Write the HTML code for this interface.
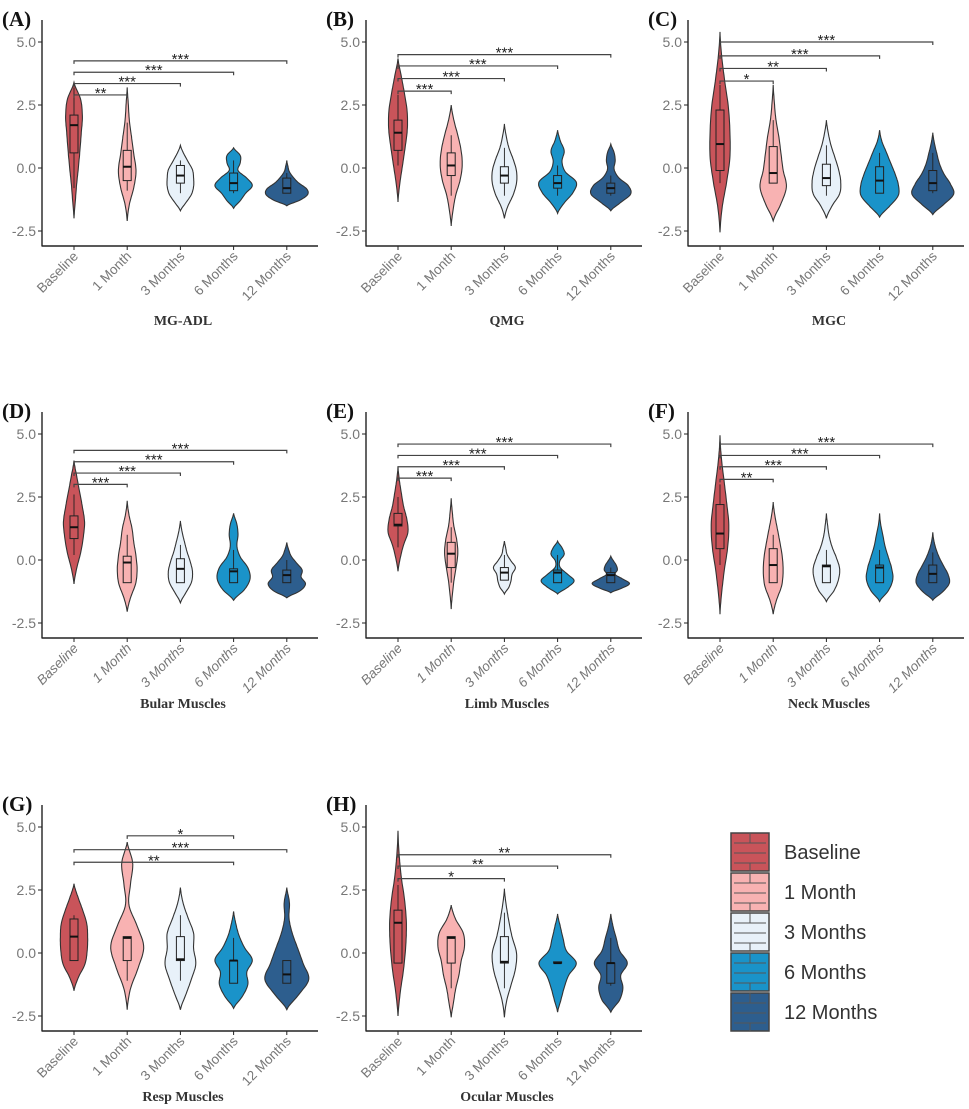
<!DOCTYPE html>
<html><head><meta charset="utf-8">
<style>
html,body{margin:0;padding:0;background:#fff;}
svg{display:block;}
</style></head>
<body>
<svg id="chart" width="969" height="1109" viewBox="0 0 969 1109" xmlns="http://www.w3.org/2000/svg"></svg>
<script>
const categories = ["Baseline","1 Month","3 Months","6 Months","12 Months"];
const colors = ["#c9545a","#f8b2b2","#e8f1f9","#1a93c9","#2d5e8e"];
const panelTitles = ["MG-ADL","QMG","MGC","Bular Muscles","Limb Muscles","Neck Muscles","Resp Muscles","Ocular Muscles"];
const panelLetters = ["(A)","(B)","(C)","(D)","(E)","(F)","(G)","(H)"];
const yTicks = [5.0, 2.5, 0.0, -2.5];
const yTickLabels = ["5.0","2.5","0.0","-2.5"];
const ranges = [
 [[-2.0,3.4],[-2.1,3.2],[-1.7,0.9],[-1.6,0.8],[-1.5,0.3]],
 [[-1.35,4.35],[-2.3,2.5],[-2.0,1.75],[-1.8,1.5],[-1.7,0.95]],
 [[-2.55,5.4],[-2.1,3.3],[-2.0,1.9],[-1.95,1.5],[-1.85,1.4]],
 [[-0.95,3.95],[-2.05,2.35],[-1.7,1.55],[-1.6,1.85],[-1.5,0.7]],
 [[-0.45,3.7],[-1.95,2.45],[-1.35,0.75],[-1.35,0.75],[-1.3,0.15]],
 [[-2.15,4.95],[-2.15,2.3],[-1.65,1.85],[-1.65,1.85],[-1.6,1.1]],
 [[-1.5,2.75],[-2.25,4.4],[-2.25,2.6],[-2.2,1.65],[-2.25,2.6]],
 [[-2.5,4.85],[-2.55,1.9],[-2.55,2.55],[-2.35,1.55],[-2.35,1.55]]
];
const densities = [
 [[0,0.06,0.12,0.2,0.27,0.33,0.38,0.3,0],[0,0.1,0.3,0.4,0.3,0.2,0.1,0.05,0],[0,0.25,0.5,0.6,0.6,0.55,0.35,0.15,0],[0,0.3,0.55,0.85,0.6,0.2,0.3,0.3,0],[0,0.6,0.95,0.9,0.55,0.3,0.12,0.05,0]],
 [[0,0.08,0.2,0.32,0.42,0.42,0.3,0.15,0],[0,0.08,0.2,0.4,0.5,0.45,0.3,0.12,0],[0,0.15,0.4,0.55,0.55,0.4,0.2,0.08,0],[0,0.3,0.7,0.85,0.35,0.2,0.3,0.12,0],[0,0.45,0.9,0.8,0.35,0.15,0.2,0.15,0]],
 [[0,0.1,0.3,0.45,0.45,0.38,0.22,0.08,0],[0,0.35,0.6,0.45,0.35,0.25,0.12,0.05,0],[0,0.25,0.6,0.65,0.55,0.38,0.2,0.08,0],[0,0.45,0.85,0.85,0.7,0.5,0.3,0.1,0],[0,0.5,0.95,0.8,0.5,0.3,0.18,0.07,0]],
 [[0,0.12,0.3,0.42,0.48,0.38,0.25,0.12,0],[0,0.15,0.38,0.45,0.4,0.3,0.22,0.08,0],[0,0.25,0.5,0.55,0.45,0.3,0.18,0.07,0],[0,0.5,0.75,0.65,0.3,0.15,0.2,0.15,0],[0,0.6,0.85,0.65,0.7,0.45,0.2,0.08,0]],
 [[0,0.1,0.25,0.45,0.4,0.25,0.15,0.06,0],[0,0.05,0.12,0.22,0.3,0.25,0.12,0.05,0],[0,0.2,0.3,0.35,0.5,0.3,0.12,0.06,0],[0,0.45,0.75,0.45,0.12,0.1,0.3,0.2,0],[0,0.5,0.85,0.55,0.2,0.3,0.25,0.12,0]],
 [[0,0.08,0.2,0.35,0.4,0.3,0.18,0.06,0],[0,0.15,0.38,0.45,0.42,0.32,0.2,0.08,0],[0,0.35,0.55,0.6,0.45,0.25,0.12,0.05,0],[0,0.4,0.6,0.55,0.4,0.25,0.15,0.05,0],[0,0.45,0.75,0.7,0.5,0.3,0.15,0.05,0]],
 [[0,0.2,0.5,0.6,0.62,0.58,0.4,0.18,0],[0,0.15,0.5,0.75,0.45,0.08,0.15,0.25,0],[0,0.25,0.5,0.7,0.6,0.6,0.35,0.12,0],[0,0.4,0.65,0.6,0.85,0.5,0.25,0.1,0],[0,0.55,1.0,0.75,0.5,0.25,0.1,0.12,0]],
 [[0,0.1,0.25,0.35,0.38,0.3,0.15,0.05,0],[0,0.1,0.2,0.35,0.45,0.6,0.55,0.2,0],[0,0.1,0.3,0.5,0.55,0.35,0.2,0.08,0],[0,0.15,0.3,0.5,0.85,0.4,0.25,0.12,0],[0,0.4,0.55,0.45,0.75,0.4,0.25,0.1,0]]
];
const boxes = [
 [[-0.8,0.6,1.7,2.1,3.2],[-0.9,-0.5,0.05,0.7,1.8],[-1.0,-0.6,-0.3,0.1,0.3],[-1.0,-0.9,-0.6,-0.2,0.3],[-1.0,-1.0,-0.8,-0.4,-0.2]],
 [[0.1,0.7,1.4,1.9,2.9],[-1.1,-0.3,0.1,0.6,1.3],[-1.1,-0.6,-0.3,0.05,0.8],[-1.1,-0.8,-0.6,-0.3,0.1],[-1.1,-1.0,-0.8,-0.6,-0.3]],
 [[-0.6,-0.1,0.95,2.3,3.3],[-0.6,-0.6,-0.2,0.85,1.9],[-1.1,-0.7,-0.4,0.15,0.9],[-1.0,-1.0,-0.5,0.05,0.6],[-1.0,-0.9,-0.6,-0.1,0.6]],
 [[0.2,0.85,1.3,1.75,2.6],[-0.9,-0.9,-0.1,0.15,1.0],[-0.9,-0.9,-0.35,0.05,0.6],[-0.9,-0.9,-0.45,-0.35,0.4],[-0.9,-0.9,-0.6,-0.4,0.0]],
 [[0.5,1.35,1.4,1.85,2.5],[-0.9,-0.3,0.25,0.7,1.3],[-0.8,-0.8,-0.5,-0.3,0.2],[-0.9,-0.9,-0.5,-0.4,0.2],[-0.9,-0.9,-0.6,-0.5,-0.3]],
 [[-0.2,0.45,1.05,2.2,3.0],[-0.9,-0.9,-0.2,0.45,1.0],[-0.9,-0.9,-0.25,-0.2,0.4],[-0.9,-0.9,-0.3,-0.2,0.4],[-0.9,-0.9,-0.55,-0.2,0.3]],
 [[-0.3,-0.3,0.65,1.35,1.5],[-1.1,-0.3,0.6,0.65,0.65],[-1.1,-0.3,-0.25,0.65,1.5],[-1.2,-1.2,-0.3,-0.3,0.6],[-1.2,-1.2,-0.85,-0.3,-0.3]],
 [[-0.4,-0.4,1.2,1.7,2.7],[-1.4,-0.4,0.6,0.65,0.65],[-1.4,-0.4,-0.35,0.65,1.6],[-0.4,-0.4,-0.4,-0.35,-0.35],[-1.3,-1.2,-0.4,-0.4,0.6]]
];
const sigs = [
 [[0,1,2.9,"**"],[0,2,3.35,"***"],[0,3,3.8,"***"],[0,4,4.25,"***"]],
 [[0,1,3.05,"***"],[0,2,3.55,"***"],[0,3,4.05,"***"],[0,4,4.5,"***"]],
 [[0,1,3.45,"*"],[0,2,3.95,"**"],[0,3,4.45,"***"],[0,4,5.0,"***"]],
 [[0,1,3.0,"***"],[0,2,3.45,"***"],[0,3,3.9,"***"],[0,4,4.35,"***"]],
 [[0,1,3.25,"***"],[0,2,3.7,"***"],[0,3,4.15,"***"],[0,4,4.6,"***"]],
 [[0,1,3.2,"**"],[0,2,3.7,"***"],[0,3,4.15,"***"],[0,4,4.6,"***"]],
 [[1,3,4.65,"*"],[0,4,4.1,"***"],[0,3,3.6,"**"]],
 [[0,2,2.95,"*"],[0,3,3.45,"**"],[0,4,3.9,"**"]]
];

const NS = "http://www.w3.org/2000/svg";
const svg = document.getElementById("chart");
function mk(tag, attrs, parent){ const e=document.createElementNS(NS,tag); for(const k in attrs) e.setAttribute(k,attrs[k]); (parent||svg).appendChild(e); return e; }
const OX=[0,324,646], OY=[0,392,785];
const HW=22;
function yScale(v){ return 168 - v*25.2; }
function xScale(i){ return 74 + i*53.2; }
function interp(d, t){
  const n=d.length-1, f=t*n, i=Math.min(Math.floor(f),n-1), u=f-i;
  const p0=d[Math.max(i-1,0)], p1=d[i], p2=d[i+1], p3=d[Math.min(i+2,n)];
  const v=0.5*((2*p1)+(-p0+p2)*u+(2*p0-5*p1+4*p2-p3)*u*u+(-p0+3*p1-3*p2+p3)*u*u*u);
  return Math.max(v,0);
}
for(let p=0;p<8;p++){
  const ox=OX[p%3], oy=OY[Math.floor(p/3)];
  const g=mk("g",{transform:`translate(${ox},${oy})`});
  
  
  const lt=mk("text",{x:2,y:26,"font-family":"Liberation Serif, serif","font-weight":"bold","font-size":"21",fill:"#111"},g);
  lt.textContent=panelLetters[p];
  
  
  const ya=mk("line",{x1:42,y1:20,x2:42,y2:246,stroke:"#222","stroke-width":1.4},g);
  
  
  const xa=mk("line",{x1:41.5,y1:246,x2:318,y2:246,stroke:"#222","stroke-width":1.4},g);
  
  
  yTicks.forEach((v,k)=>{
    const y=yScale(v);
    mk("line",{x1:38,y1:y,x2:42,y2:y,stroke:"#222","stroke-width":1},g);
    const t=mk("text",{x:36,y:y+5,"text-anchor":"end","font-family":"Liberation Sans, sans-serif","font-size":"14",fill:"#777"},g);
    t.textContent=yTickLabels[k];
    
    
  });
  const italic = Math.floor(p/3)===1;
  categories.forEach((c,i)=>{
    const x=xScale(i);
    mk("line",{x1:x,y1:246,x2:x,y2:250,stroke:"#222","stroke-width":1},g);
    const t=mk("text",{x:0,y:0,transform:`translate(${x+5},${257}) rotate(-45)`,"text-anchor":"end","font-family":"Liberation Sans, sans-serif","font-size":"13.5",fill:"#777","font-style":italic?"italic":"normal"},g);
    t.textContent=c;
    
    
  });
  const tt=mk("text",{x:183,y:p<3?325:316,"text-anchor":"middle","font-family":"Liberation Serif, serif","font-weight":"bold","font-size":"14",fill:"#333"},g);
  tt.textContent=panelTitles[p];
  
  
  categories.forEach((c,i)=>{
    const [mn,mx]=ranges[p][i], d=densities[p][i], cx=xScale(i);
    const N=60, right=[], left=[];
    for(let k=0;k<=N;k++){
      const t=k/N, v=mn+(mx-mn)*t, w=interp(d,t)*HW;
      right.push([cx+w,yScale(v)]); left.push([cx-w,yScale(v)]);
    }
    const pts=right.concat(left.reverse()).map(q=>q[0].toFixed(1)+","+q[1].toFixed(1)).join(" ");
    const vp=mk("polygon",{points:pts,fill:colors[i],stroke:"#333","stroke-width":1.1},g);
    
    
    const b=boxes[p][i];
    mk("line",{x1:cx,y1:yScale(b[0]),x2:cx,y2:yScale(b[4]),stroke:"#222","stroke-width":0.9},g);
    const br=mk("rect",{x:cx-4,y:yScale(b[3]),width:8,height:Math.max(yScale(b[1])-yScale(b[3]),0.5),fill:colors[i],stroke:"#222","stroke-width":1},g);
    
    
    mk("line",{x1:cx-4,y1:yScale(b[2]),x2:cx+4,y2:yScale(b[2]),stroke:"#111","stroke-width":2},g);
  });
  sigs[p].forEach(s=>{
    const x1=xScale(s[0]), x2=xScale(s[1]), y=yScale(s[2]);
    const l=mk("path",{d:`M${x1},${y+3}V${y}H${x2}V${y+3}`,fill:"none",stroke:"#444","stroke-width":1.2},g);
    
    
    const t=mk("text",{x:(x1+x2)/2,y:y+3,"text-anchor":"middle","font-family":"Liberation Sans, sans-serif","font-size":"15",fill:"#222"},g);
    t.textContent=s[3];
    
    
  });
}
const lg=mk("g",{});


categories.forEach((c,i)=>{
  const y=833+i*40;
  const r=mk("rect",{x:731,y:y,width:38,height:38,fill:colors[i],stroke:"#444","stroke-width":1.5},lg);
  
  
  [8,18,28].forEach(dy=>mk("line",{x1:734,y1:y+dy+2,x2:766,y2:y+dy+2,stroke:"#555","stroke-width":1},lg));
  mk("line",{x1:750,y1:y,x2:750,y2:y+10,stroke:"#555","stroke-width":1},lg);
  mk("line",{x1:750,y1:y+30,x2:750,y2:y+38,stroke:"#555","stroke-width":1},lg);
  const t=mk("text",{x:784,y:y+26,"font-family":"Liberation Sans, sans-serif","font-size":"20",fill:"#333"},lg);
  t.textContent=c;
  
  
});
</script>
</body></html>
